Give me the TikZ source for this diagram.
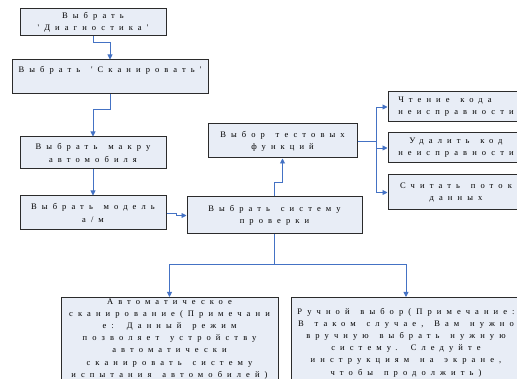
\documentclass[tikz,border=0pt]{standalone}
\usepackage{fontspec}
\usepackage{xcolor}
\usepackage{tikz}
\usetikzlibrary{arrows.meta,positioning}
\newfontfamily\boxfont[LetterSpace=60,WordSpace=1.5]{Liberation Serif}
\definecolor{boxfill}{HTML}{E8EDF6}
\definecolor{boxline}{HTML}{2B2B2B}
\definecolor{linkblue}{HTML}{4472C4}
\tikzset{
  stepbox/.style={draw=boxline,line width=1pt,fill=boxfill,inner sep=1pt,
    align=center,font=\boxfont\fontsize{8.5}{12.2}\selectfont},
  link/.style={draw=linkblue,line width=0.9pt,-{Triangle[width=5pt,length=5pt]}}
}

\begin{document}
\begin{tikzpicture}[x=1pt,y=-1pt]
  \useasboundingbox (0,0) rectangle (517,379);
  % left column
  \node[stepbox,minimum width=146,minimum height=27] (diag) at (93,22.5) {Выбрать\\'Диагностика'};
  \node[stepbox,align=left,minimum width=196,minimum height=34] (scan) at (110,77) {Выбрать 'Сканировать'\\ \strut};
  \node[stepbox,minimum width=146,minimum height=32] (make) at (93,153) {Выбрать макру\\автомобиля};
  \node[stepbox,minimum width=146,minimum height=34] (model) at (93,213) {Выбрать модель\\а/м};
  % middle
  \node[stepbox,minimum width=175,minimum height=37] (sys) at (274.5,215.5) {Выбрать систему\\проверки};
  \node[stepbox,minimum width=149,minimum height=34] (func) at (282.5,141) {Выбор тестовых\\функций};
  % right column
  \node[stepbox,align=left,minimum width=136,minimum height=30] (read) at (456,107) {Чтение кода\\неисправности};
  \node[stepbox,minimum width=136,minimum height=30] (clear) at (456,148) {Удалить код\\неисправности};
  \node[stepbox,minimum width=136,minimum height=35] (stream) at (456,192.5) {Считать поток\\данных};
  % bottom
  \node[stepbox,anchor=north,inner ysep=1pt,minimum width=217] (auto) at (169.5,297)
    {Автоматическое\\сканирование(Примечани\\е: Данный режим\\позволяет устройству\\автоматически\\сканировать систему\\испытания автомобилей)};
  \node[stepbox,anchor=north,inner ysep=6pt,minimum width=230,minimum height=90] (manual) at (406,297)
    {Ручной выбор(Примечание:\\В таком случае, Вам нужно\\вручную выбрать нужную\\систему. Следуйте\\инструкциям на экране,\\чтобы продолжить)};

  \draw[link] (diag.south) -- ++(0,6) -| (scan.north);
  \draw[link] (scan.south) -- ++(0,15) -| (make.north);
  \draw[link] (make.south) -- (model.north);
  \draw[link] (model.east) -- ++(10,0) |- (sys.west);
  \draw[link] (sys.north) -- ++(0,-14) -| (func.south);
  \foreach \t in {read,clear,stream}
    \draw[link] (func.east) -- ++(19,0) |- (\t.west);
  \draw[link] (sys.south) -- ++(0,30) -| (auto.north);
  \draw[link] (sys.south) -- ++(0,30) -| (manual.north);
\end{tikzpicture}
\end{document}
